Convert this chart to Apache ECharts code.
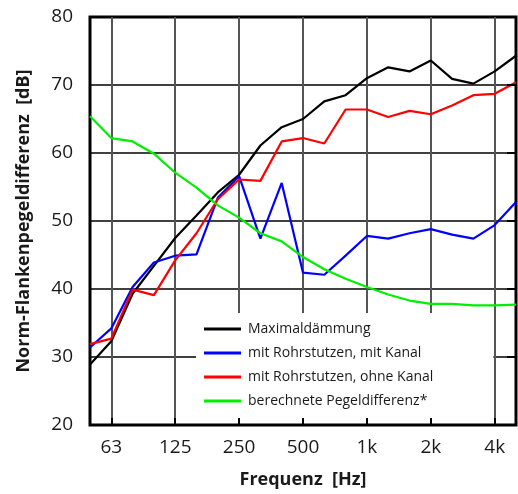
<!DOCTYPE html>
<html>
<head>
<meta charset="utf-8">
<script src="https://cdn.jsdelivr.net/npm/echarts@6/dist/echarts.min.js"></script>
<style>
  html, body { margin: 0; padding: 0; background: #fff; }
  #chart { width: 518px; height: 494px; }
</style>
</head>
<body>
<div id="chart"></div>
<script>
// third-octave bands, 50 Hz .. 5 kHz
const bands = ['50', '63', '80', '100', '125', '160', '200', '250', '315', '400', '500',
  '630', '800', '1k', '1.25k', '1.6k', '2k', '2.5k', '3.15k', '4k', '5k'];
const labelled = ['63', '125', '250', '500', '1k', '2k', '4k'];

const maxDaemmung = [28.9, 32.3, 39.3, 43.4, 47.5, 50.8, 54.2, 56.8, 61.1, 63.8, 65.0,
  67.6, 68.5, 71.0, 72.6, 72.0, 73.6, 70.9, 70.2, 72.0, 74.3];
const mitKanal = [31.4, 34.2, 40.3, 43.9, 44.9, 45.1, 53.4, 56.6, 47.4, 55.6, 42.4,
  42.1, 44.9, 47.8, 47.4, 48.2, 48.8, 48.0, 47.4, 49.4, 52.8];
const ohneKanal = [31.9, 32.7, 39.9, 39.1, 44.2, 48.2, 53.2, 56.1, 55.9, 61.7, 62.2,
  61.4, 66.4, 66.4, 65.3, 66.2, 65.7, 67.0, 68.5, 68.7, 70.4];
const pegeldifferenz = [65.4, 62.2, 61.7, 59.9, 57.1, 54.9, 52.3, 50.5, 48.2, 47.0, 44.7,
  42.9, 41.5, 40.3, 39.2, 38.3, 37.8, 37.8, 37.6, 37.6, 37.7];

const names = ['Maximaldämmung', 'mit Rohrstutzen, mit Kanal',
  'mit Rohrstutzen, ohne Kanal', 'berechnete Pegeldifferenz*'];
const colors = ['#000000', '#0000ff', '#ff0000', '#00ee00'];

const font = '"Open Sans", "Noto Sans", sans-serif';
const showAt = (i) => labelled.indexOf(bands[i]) >= 0;

const chart = echarts.init(document.getElementById('chart'));

chart.setOption({
  animation: false,
  textStyle: { fontFamily: font, color: '#1a1a1a' },
  grid: {
    left: 90, right: 2, top: 17, bottom: 67,
    show: true, borderColor: '#000', borderWidth: 3, z: 0
  },
  legend: {
    orient: 'vertical',
    left: 196, top: 313,
    width: 320,
    padding: [9, 60, 12, 8],
    backgroundColor: '#fff',
    itemWidth: 37, itemHeight: 3,
    itemGap: 10,
    icon: 'rect',
    textStyle: { fontFamily: font, fontSize: 14, color: '#1a1a1a', padding: [0, 0, 0, 2] },
    data: names,
    z: 4
  },
  xAxis: [{
    type: 'category',
    data: bands,
    boundaryGap: false,
    name: 'Frequenz  [Hz]',
    nameLocation: 'middle',
    nameGap: 46,
    nameTextStyle: { fontSize: 18, fontWeight: 'bold', color: '#1a1a1a' },
    axisLine: { show: false },
    axisTick: { show: false },
    axisLabel: { interval: (i) => showAt(i), fontSize: 19, margin: 13, color: '#1a1a1a' },
    splitLine: { show: true, interval: (i) => showAt(i), lineStyle: { color: '#555', width: 2 } },
    z: 0
  }, {
    type: 'category',
    data: bands,
    boundaryGap: false,
    position: 'bottom',
    axisLine: { show: false },
    axisLabel: { show: false },
    axisTick: { show: true, inside: true, length: 7, interval: (i) => showAt(i),
      lineStyle: { color: '#000', width: 2 } },
    splitLine: { show: false },
    z: 6
  }],
  yAxis: [{
    type: 'value',
    min: 20, max: 80, interval: 10,
    name: 'Norm-Flankenpegeldifferenz  [dB]',
    nameLocation: 'middle',
    nameGap: 57,
    nameTextStyle: { fontSize: 18, fontWeight: 'bold', color: '#1a1a1a' },
    axisLine: { show: false },
    axisTick: { show: false },
    axisLabel: { fontSize: 19, margin: 17, color: '#1a1a1a' },
    splitLine: { show: true, lineStyle: { color: '#000', width: 1.5 } },
    z: 0
  }, {
    type: 'value',
    min: 20, max: 80, interval: 10,
    position: 'right',
    axisLine: { show: false },
    axisLabel: { show: false },
    axisTick: { show: true, inside: true, length: 9, lineStyle: { color: '#000', width: 2 } },
    splitLine: { show: false },
    z: 6
  }],
  series: [maxDaemmung, mitKanal, ohneKanal, pegeldifferenz].map((d, k) => ({
    name: names[k],
    type: 'line',
    data: d,
    showSymbol: false,
    symbol: 'none',
    color: colors[k],
    lineStyle: { color: colors[k], width: 2.2 },
    z: 2
  }))
});
</script>
</body>
</html>
